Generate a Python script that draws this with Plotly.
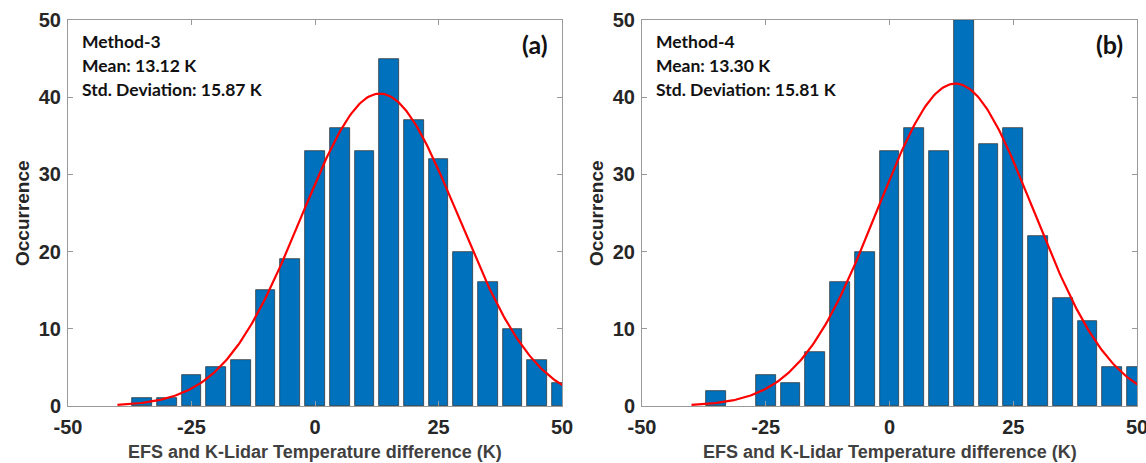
import numpy as np
import plotly.graph_objects as go

# ---- data ----
bin_centers = [-35, -30, -25, -20, -15, -10, -5, 0, 5, 10, 15, 20, 25, 30, 35, 40, 45, 50]
counts_m3 = [1, 1, 4, 5, 6, 15, 19, 33, 36, 33, 45, 37, 32, 20, 16, 10, 6, 3]
counts_m4 = [2, 0, 4, 3, 7, 16, 20, 33, 36, 33, 50, 34, 36, 22, 14, 11, 5, 5]
mean_m3, std_m3 = 13.12, 15.87
mean_m4, std_m4 = 13.30, 15.81
bin_width = 5
fit_start, fit_end = -40, 55
x_ticks = [-50, -25, 0, 25, 50]
y_ticks = [0, 10, 20, 30, 40, 50]

W, H = 1146, 463
BLUE = "#0072BD"
TICK_FONT = dict(family="Liberation Sans, Arial, sans-serif", size=20, color="#262626", weight="bold")


def fit_curve(counts, mu, sd):
    xs = np.linspace(fit_start, fit_end, 300)
    scale = sum(counts) * bin_width
    ys = scale / (sd * np.sqrt(2 * np.pi)) * np.exp(-0.5 * ((xs - mu) / sd) ** 2)
    return xs, ys


fig = go.Figure()

panels = [
    dict(counts=counts_m3, mu=mean_m3, sd=std_m3, xa="x", ya="y", name="Method-3", tag="(a)",
         dom=[68 / W, 562 / W]),
    dict(counts=counts_m4, mu=mean_m4, sd=std_m4, xa="x2", ya="y2", name="Method-4", tag="(b)",
         dom=[642 / W, 1137 / W]),
]

ydom = [1 - 406 / H, 1 - 20 / H]

for i, p in enumerate(panels):
    fig.add_trace(go.Bar(
        x=bin_centers, y=p["counts"], width=bin_width * 0.8,
        marker=dict(color=BLUE,
                    line=dict(color="#2a2a2a", width=[0 if c == 0 else 0.7 for c in p["counts"]])),
        xaxis=p["xa"], yaxis=p["ya"], showlegend=False, hoverinfo="x+y",
    ))
    cx, cy = fit_curve(p["counts"], p["mu"], p["sd"])
    fig.add_trace(go.Scatter(
        x=cx, y=cy, mode="lines", line=dict(color="#FF0000", width=2.2),
        xaxis=p["xa"], yaxis=p["ya"], showlegend=False, hoverinfo="skip",
    ))
    suffix = "" if i == 0 else "2"
    axis_common = dict(
        showline=True, linecolor="#9a9a9a", linewidth=1, mirror="ticks",
        ticks="inside", ticklen=5, tickcolor="#9a9a9a", tickwidth=1,
        showgrid=False, zeroline=False, tickfont=TICK_FONT, automargin=False,
        ticklabeloverflow="allow",
    )
    fig.update_layout(**{
        "xaxis" + suffix: dict(axis_common, domain=p["dom"], range=[-50, 50],
                               tickvals=x_ticks, ticktext=[str(v) for v in x_ticks],
                               anchor="y" + suffix, ticklabelstandoff=3),
        "yaxis" + suffix: dict(axis_common, domain=ydom, range=[0, 50],
                               tickvals=y_ticks, anchor="x" + suffix, ticklabelstandoff=2),
    })
    x0, x1 = p["dom"]
    # stats text
    lines = [p["name"], f"Mean: {p['mu']:.2f} K", f"Std. Deviation: {p['sd']:.2f} K"]
    for j, t in enumerate(lines):
        fig.add_annotation(
            text=t, xref="paper", yref="paper", x=x0 + 12 / W, y=1 - (42 + 23.5 * j) / H,
            xanchor="left", yanchor="middle", showarrow=False,
            font=dict(family="Lato, sans-serif", size=17.5, color="#111111", weight="bold"),
        )
    # panel tag
    fig.add_annotation(
        text=p["tag"], xref="paper", yref="paper", x=x1 - 12 / W, y=1 - 44 / H,
        xanchor="right", yanchor="middle", showarrow=False,
        font=dict(family="Lato, sans-serif", size=25, color="#111111", weight="bold"),
    )
    # axis titles
    fig.add_annotation(
        text="EFS and K-Lidar Temperature difference (K)", xref="paper", yref="paper",
        x=(x0 + x1) / 2, y=1 - 452 / H, xanchor="center", yanchor="middle", showarrow=False,
        font=dict(family="Liberation Sans, Arial, sans-serif", size=18, color="#404040", weight="bold"),
    )
    fig.add_annotation(
        text="Occurrence", xref="paper", yref="paper", textangle=-90,
        x=x0 - 46 / W, y=(ydom[0] + ydom[1]) / 2, xanchor="center", yanchor="middle", showarrow=False,
        font=dict(family="Liberation Sans, Arial, sans-serif", size=19, color="#262626", weight="bold"),
    )

fig.update_layout(
    width=W, height=H, margin=dict(l=0, r=0, t=0, b=0),
    paper_bgcolor="white", plot_bgcolor="white", bargap=0,
)

fig.write_html("out.html")
